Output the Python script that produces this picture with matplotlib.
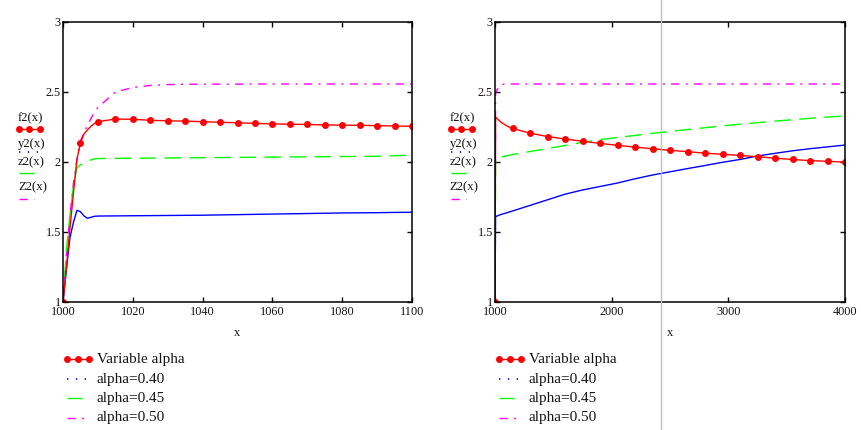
import numpy as np
import matplotlib

matplotlib.use('Agg')
import matplotlib.pyplot as plt
from matplotlib.lines import Line2D

# ---- left panel: x = 1000 .. 1100 ----
x_left = [1000, 1001, 1002, 1003, 1004, 1005, 1006, 1007, 1008, 1009, 1010,
          1015, 1020, 1025, 1030, 1035, 1040, 1045, 1050, 1055, 1060, 1065,
          1070, 1075, 1080, 1085, 1090, 1095, 1100]
f2_left = [1.0, 1.25, 1.53, 1.78, 2.02, 2.136, 2.20, 2.23, 2.255, 2.275, 2.288,
           2.307, 2.305, 2.298, 2.294, 2.292, 2.288, 2.284, 2.280, 2.276, 2.272,
           2.270, 2.268, 2.265, 2.263, 2.262, 2.260, 2.257, 2.255]
y2_left = [1.0, 1.24, 1.46, 1.57, 1.655, 1.645, 1.615, 1.598, 1.605, 1.612, 1.614,
           1.615, 1.616, 1.617, 1.618, 1.619, 1.620, 1.622, 1.624, 1.626, 1.628,
           1.630, 1.632, 1.634, 1.636, 1.637, 1.638, 1.640, 1.641]
z2_left = [1.0, 1.38, 1.62, 1.83, 1.96, 1.98, 1.99, 2.0, 2.015, 2.022, 2.025,
           2.026, 2.027, 2.028, 2.029, 2.030, 2.031, 2.032, 2.033, 2.034, 2.035,
           2.036, 2.037, 2.038, 2.039, 2.040, 2.041, 2.045, 2.048]
Z2_left = [1.0, 1.35, 1.62, 1.85, 2.02, 2.15, 2.21, 2.26, 2.31, 2.355, 2.39,
           2.50, 2.532, 2.547, 2.553, 2.555, 2.556, 2.556, 2.556, 2.557, 2.557,
           2.557, 2.557, 2.557, 2.557, 2.557, 2.557, 2.557, 2.557]

# ---- right panel: x = 1000 .. 4000 ----
x_right = [1000, 1005, 1050, 1100, 1150, 1300, 1450, 1600, 1750, 1900, 2050,
           2200, 2350, 2500, 2650, 2800, 2950, 3100, 3250, 3400, 3550, 3700,
           3850, 4000]
f2_right = [1.0, 2.32, 2.285, 2.258, 2.24, 2.206, 2.182, 2.164, 2.148, 2.133,
            2.119, 2.106, 2.095, 2.083, 2.074, 2.063, 2.055, 2.047, 2.038,
            2.027, 2.018, 2.010, 2.005, 1.999]
y2_right = [1.0, 1.61, 1.625, 1.637, 1.65, 1.69, 1.73, 1.77, 1.80, 1.825,
            1.85, 1.88, 1.907, 1.93, 1.953, 1.975, 1.998, 2.018, 2.043, 2.062,
            2.080, 2.095, 2.108, 2.121]
z2_right = [1.0, 2.025, 2.035, 2.045, 2.053, 2.075, 2.096, 2.118, 2.14, 2.16,
            2.175, 2.19, 2.205, 2.218, 2.232, 2.245, 2.258, 2.27, 2.281, 2.292,
            2.302, 2.312, 2.321, 2.329]
Z2_right = [1.0, 2.50, 2.555, 2.556, 2.557, 2.557, 2.557, 2.557, 2.557, 2.557,
            2.557, 2.557, 2.557, 2.557, 2.557, 2.557, 2.557, 2.557, 2.557, 2.557,
            2.557, 2.557, 2.557, 2.557]

xticks_left = [1000, 1020, 1040, 1060, 1080, 1100]
xticks_right = [1000, 2000, 3000, 4000]
yticks = [1, 1.5, 2, 2.5, 3]
yticklabels = ['1', '1.5', '2', '2.5', '3']
trace_names = ['f2(x)', 'y2(x)', 'z2(x)', 'Z2(x)']
legend_labels = ['Variable alpha', 'alpha=0.40', 'alpha=0.45', 'alpha=0.50']

RED, BLUE, GREEN, MAGENTA = '#ff0000', '#0000ff', '#00ff00', '#ff00ff'
SERIF = ['Liberation Serif', 'DejaVu Serif']
INK = '#141414'

styles = [
    dict(color=RED, lw=1.0, marker='o', ms=5, mew=0),
    dict(color=BLUE, lw=1.2, linestyle=(0, (0.8, 4.5))),
    dict(color=GREEN, lw=1.0, linestyle=(0, (12, 6))),
    dict(color=MAGENTA, lw=1.0, linestyle=(0, (6, 4.5, 1.5, 4.5))),
]


def sample(ax, x0, x1, y, style, n=3):
    """small line sample drawn in axes coordinates, outside the plot box"""
    st = dict(style)
    if 'marker' in st:
        xs = np.linspace(x0, x1, n)
        ys = [y] * n
    else:
        xs, ys = [x0, x1], [y, y]
    ax.add_line(Line2D(xs, ys, transform=ax.transAxes, clip_on=False, **st))


def panel(ax, x, f2, y2, z2, Z2, step, xticks):
    mark_idx = [i for i, v in enumerate(x) if (v - 1000) % step == 0]
    ax.plot(x, Z2, color=MAGENTA, lw=1.0, dashes=(6, 4.5, 1.5, 4.5))
    ax.plot(x, z2, color=GREEN, lw=1.0, dashes=(12, 6))
    ax.plot(x, y2, color=BLUE, lw=1.0)
    ax.plot(x, f2, color=RED, lw=1.0, marker='o', ms=5, mew=0, markevery=mark_idx)

    ax.set_xlim(xticks[0], xticks[-1])
    ax.set_ylim(1, 3)
    ax.set_xticks(xticks)
    ax.set_xticklabels([str(t) for t in xticks])
    ax.set_yticks(yticks)
    ax.set_yticklabels(yticklabels)
    ax.tick_params(direction='in', length=3.6, width=1.0, top=True, right=True,
                   labelsize=8.8, labelcolor=INK)
    ax.tick_params(axis='x', pad=3.0)
    ax.tick_params(axis='y', pad=1.5)
    for lab in ax.get_xticklabels() + ax.get_yticklabels():
        lab.set_family(SERIF)
    for sp in ax.spines.values():
        sp.set_linewidth(1.1)
    ax.set_xlabel('x', family=SERIF, fontsize=9, color=INK)
    ax.xaxis.set_label_coords(0.5, -0.111)
    ax.xaxis.label.set_va('center')

    # Mathcad style y-axis trace names, each with its line sample below
    name_y = [0.655, 0.564, 0.498, 0.409]
    samp_y = [0.617, 0.536, 0.460, 0.368]
    samp_x1 = [-0.066, -0.070, -0.083, -0.083]
    for name, ny, sy, sx1, st in zip(trace_names, name_y, samp_y, samp_x1, styles):
        ax.text(-0.129, ny, name, transform=ax.transAxes, family=SERIF,
                fontsize=9.2, color=INK, ha='left', va='center')
        sample(ax, -0.126, sx1, sy, st)

    # legend below the plot
    row_y = [-0.204, -0.275, -0.343, -0.414]
    row_x1 = [0.074, 0.076, 0.054, 0.062]
    for lab, ry, rx1, st in zip(legend_labels, row_y, row_x1, styles):
        sample(ax, 0.012, rx1, ry, st)
        ax.text(0.097, ry, lab, transform=ax.transAxes, family=SERIF,
                fontsize=11, color=INK, ha='left', va='center')


fig = plt.figure(figsize=(8.61, 4.30), dpi=100)
W, H = 861.0, 430.0
ax1 = fig.add_axes([63 / W, (H - 302) / H, 349 / W, 280 / H])
ax2 = fig.add_axes([495 / W, (H - 302) / H, 350 / W, 280 / H])

panel(ax1, x_left, f2_left, y2_left, z2_left, Z2_left, 5, xticks_left)
panel(ax2, x_right, f2_right, y2_right, z2_right, Z2_right, 150, xticks_right)

# thin grey cursor line that runs through the whole picture
fig.add_artist(Line2D([661 / W, 661 / W], [0, 1], transform=fig.transFigure,
                      color='#c0c0c0', lw=1.0))

fig.savefig('out.png', dpi=100, facecolor='white')
